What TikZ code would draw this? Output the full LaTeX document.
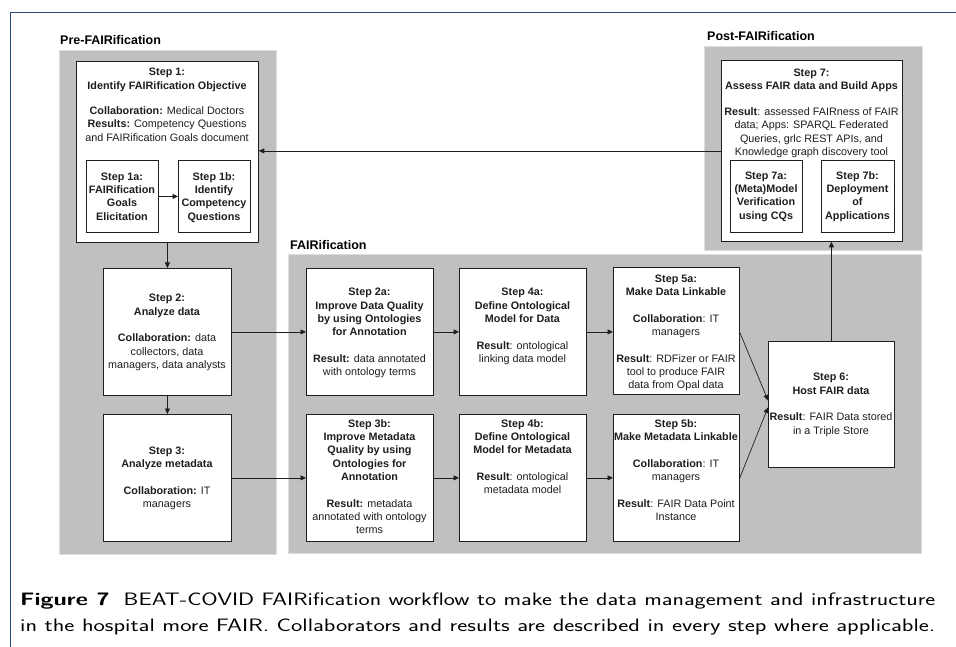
\documentclass[tikz,border=0pt]{standalone}
\usepackage{fontspec}
\usepackage{graphicx}
\newfontfamily\arialf{Liberation Sans}
\usetikzlibrary{arrows.meta}
\definecolor{lanegray}{RGB}{192,192,192}
\definecolor{lanebord}{RGB}{222,222,222}
\definecolor{framec}{RGB}{40,70,120}
\definecolor{inkc}{RGB}{30,30,30}
\tikzset{
  stepbox/.style={draw=inkc, fill=white, line width=0.8pt, inner sep=0pt, anchor=north west},
  lane/.style={fill=lanegray, draw=lanebord, line width=0.8pt},
  txt/.style={anchor=north, align=center, inner sep=0pt, text=inkc, font=\arialf\fontsize{10.8}{13.3}\selectfont},
  lanelbl/.style={anchor=base west, inner sep=0pt, text=black, font=\arialf\bfseries\fontsize{12.5}{15}\selectfont},
  arr/.style={-{Triangle[length=5.5pt,width=5pt]}, line width=0.7pt, draw=inkc},
  capline/.style={anchor=base west, inner sep=0pt, font=\sffamily\fontsize{18}{25}\selectfont}
}
\begin{document}
\begin{tikzpicture}[x=1pt,y=-1pt]
\useasboundingbox (0,0) rectangle (956,647);
% frame
\draw[framec, line width=1pt] (956,12.5) -- (10,12.5) -- (10,647);
% lanes
\fill[lane] (59,50) rectangle (276,554);
\fill[lane] (288,254) rectangle (921,553);
\fill[lane] (704,46) rectangle (922,250);
\draw[lanebord, line width=0.8pt] (59,50) rectangle (276,554);
\draw[lanebord, line width=0.8pt] (288,254) rectangle (921,553);
\draw[lanebord, line width=0.8pt] (704,46) rectangle (922,250);
\node[lanelbl] (lpre) at (60,45) {Pre-FAIRification};
\node[lanelbl] (lfair) at (290,249.5) {FAIRification};
\node[lanelbl] (lpost) at (707,41) {Post-FAIRification};
% boxes
\node[stepbox, minimum width=182pt, minimum height=181pt] (s1) at (76,61) {};
\node[stepbox, minimum width=72pt, minimum height=72pt] (s1a) at (86,160) {};
\node[stepbox, minimum width=72pt, minimum height=72pt] (s1b) at (178,160) {};
\node[stepbox, minimum width=128pt, minimum height=127pt] (s2) at (103,268) {};
\node[stepbox, minimum width=128pt, minimum height=127pt] (s3) at (103,414) {};
\node[stepbox, minimum width=127pt, minimum height=127pt] (s2a) at (306,268) {};
\node[stepbox, minimum width=127pt, minimum height=127pt] (s3b) at (306,414) {};
\node[stepbox, minimum width=127pt, minimum height=127pt] (s4a) at (459,268) {};
\node[stepbox, minimum width=127pt, minimum height=127pt] (s4b) at (459,414) {};
\node[stepbox, minimum width=126pt, minimum height=127pt] (s5a) at (613,267) {};
\node[stepbox, minimum width=126pt, minimum height=127pt] (s5b) at (613,414) {};
\node[stepbox, minimum width=126pt, minimum height=126pt] (s6) at (768,341) {};
\node[stepbox, minimum width=181pt, minimum height=181pt] (s7) at (721,60) {};
\node[stepbox, minimum width=72pt, minimum height=72pt] (s7a) at (730,160) {};
\node[stepbox, minimum width=73pt, minimum height=72pt] (s7b) at (821,160) {};
% texts
\node[txt] (t1) at (167,66.4) {\strut\textbf{Step 1:}\\ \textbf{Identify FAIRification Objective}\\[12pt]
  \textbf{Collaboration:} Medical Doctors\\ \textbf{Results:} Competency Questions\\ and FAIRification Goals document};
\node[txt] (t1a) at (122,170.7) {\strut\textbf{Step 1a:}\\ \textbf{FAIRification}\\ \textbf{Goals}\\ \textbf{Elicitation}};
\node[txt] (t1b) at (214,170.7) {\strut\textbf{Step 1b:}\\ \textbf{Identify}\\ \textbf{Competency}\\ \textbf{Questions}};
\node[txt] (t2) at (167,292.4) {\strut\textbf{Step 2:}\\ \textbf{Analyze data}\\[13.3pt]
  \textbf{Collaboration:} data\\ collectors, data\\ managers, data analysts};
\node[txt] (t3) at (167,444.7) {\strut\textbf{Step 3:}\\ \textbf{Analyze metadata}\\[13.3pt]
  \textbf{Collaboration:} IT\\ managers};
\node[txt] (t2a) at (369.5,286.4) {\strut\textbf{Step 2a:}\\ \textbf{Improve Data Quality}\\ \textbf{by using Ontologies}\\ \textbf{for Annotation}\\[13.3pt]
  \textbf{Result:} data annotated\\ with ontology terms};
\node[txt] (t3b) at (369.5,417.7) {\strut\textbf{Step 3b:}\\ \textbf{Improve Metadata}\\ \textbf{Quality by using}\\ \textbf{Ontologies for}\\ \textbf{Annotation}\\[13.3pt]
  \textbf{Result:} metadata\\ annotated with ontology\\ terms};
\node[txt] (t4a) at (522.5,286.4) {\strut\textbf{Step 4a:}\\ \textbf{Define Ontological}\\ \textbf{Model for Data}\\[13.3pt]
  \textbf{Result}: ontological\\ linking data model};
\node[txt] (t4b) at (522.5,417.7) {\strut\textbf{Step 4b:}\\ \textbf{Define Ontological}\\ \textbf{Model for Metadata}\\[13.3pt]
  \textbf{Result}: ontological\\ metadata model};
\node[txt] (t5a) at (676,272.7) {\strut\textbf{Step 5a:}\\ \textbf{Make Data Linkable}\\[13.3pt]
  \textbf{Collaboration}: IT\\ managers\\[13.3pt]
  \textbf{Result}: RDFizer or FAIR\\ tool to produce FAIR\\ data from Opal data};
\node[txt] (t5b) at (676,417.7) {\strut\textbf{Step 5b:}\\ \textbf{Make Metadata Linkable}\\[13.3pt]
  \textbf{Collaboration}: IT\\ managers\\[13.3pt]
  \textbf{Result}: FAIR Data Point\\ Instance};
\node[txt] (t6) at (831,371.4) {\strut\textbf{Step 6:}\\ \textbf{Host FAIR data}\\[13.3pt]
  \textbf{Result}: FAIR Data stored\\ in a Triple Store};
\node[txt] (t7) at (811.5,67) {\strut\textbf{Step 7:}\\ \textbf{Assess FAIR data and Build Apps}\\[12.5pt]
  \textbf{Result}: assessed FAIRness of FAIR\\ data; Apps: SPARQL Federated\\ Queries, grlc REST APIs, and\\ Knowledge graph discovery tool};
\node[txt] (t7a) at (766,169.7) {\strut\textbf{Step 7a:}\\ \textbf{(Meta)Model}\\ \textbf{Verification}\\ \textbf{using CQs}};
\node[txt] (t7b) at (857.5,169.7) {\strut\textbf{Step 7b:}\\ \textbf{Deployment}\\ \textbf{of}\\ \textbf{Applications}};
% connectors
\draw[arr] (s1a) -- (s1b);
\draw[arr] (s1) -- (s2);
\draw[arr] (s2) -- (s3);
\draw[arr] (s2.east) -- (s2a.west);
\draw[arr] (s3.east) -- (s3b.west);
\draw[arr] (s2a.east) -- (s2a.east -| s4a.west);
\draw[arr] (s3b.east) -- (s3b.east -| s4b.west);
\draw[arr] (s4a.east) -- (s4a.east -| s5a.west);
\draw[arr] (s4b.east) -- (s4b.east -| s5b.west);
\draw[arr] ([yshift=-1.5pt]s5a.east) -- ([yshift=4pt]s6.west);
\draw[arr] (s5b.east) -- ([yshift=-3pt]s6.west);
\draw[arr] (s6.north) -- (s6.north |- s7.south);
\draw[arr] (s7.west) -- (s7.west -| s1.east);
% caption
\node[capline] (cap1) at (20,605.7) {\resizebox{915pt}{\height}{\textbf{Figure 7}\hspace{0.6em}BEAT-COVID FAIRification workflow to make the data management and infrastructure}};
\node[capline] (cap2) at (20,631.5) {\resizebox{915pt}{\height}{in the hospital more FAIR. Collaborators and results are described in every step where applicable.}};
\end{tikzpicture}
\end{document}
